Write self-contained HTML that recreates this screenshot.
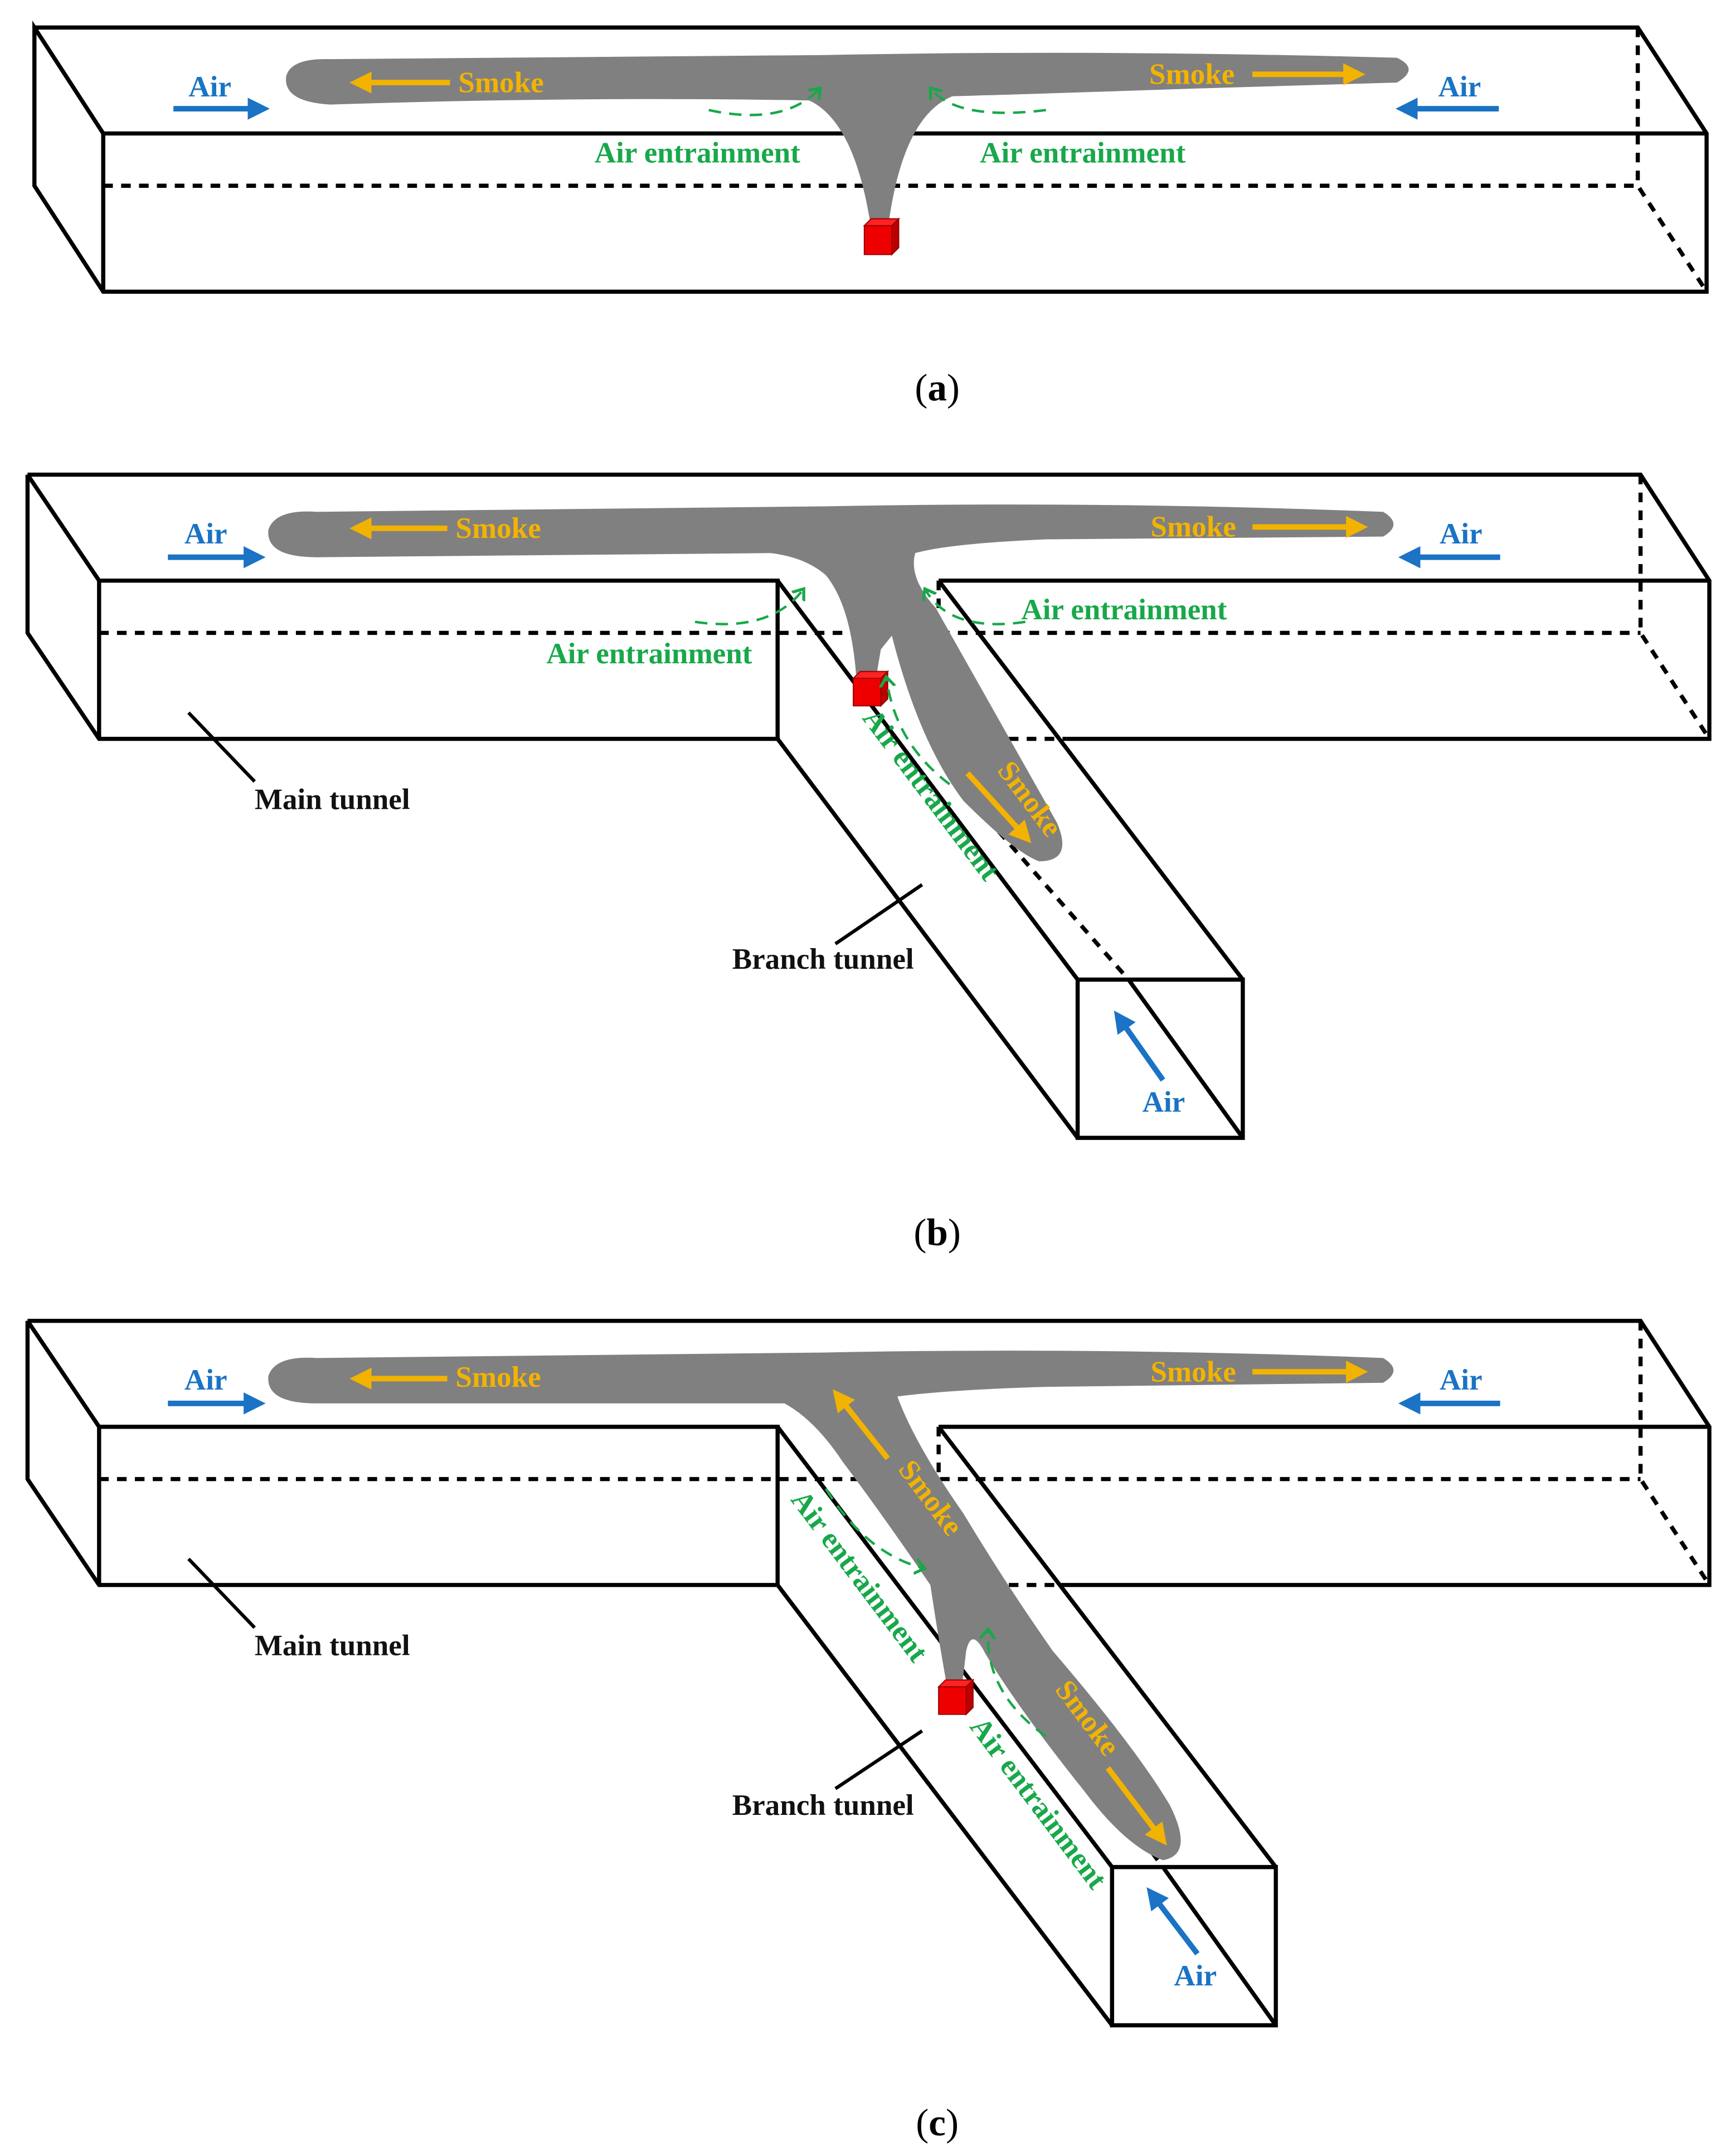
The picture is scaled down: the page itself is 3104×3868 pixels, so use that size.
<!DOCTYPE html>
<html><head><meta charset="utf-8"><style>
html,body{margin:0;padding:0;background:#fff}
svg{display:block}
text{font-family:"Liberation Serif",serif;font-weight:bold}
.a{fill:#1a73c4;font-size:21.5px}
.s{fill:#f2b300;font-size:21.5px}
.g{fill:#18a84a;font-size:21.5px}
.k{fill:#111;font-size:21.5px}
</style></head><body>
<svg width="3104" height="3868" viewBox="0 0 1257 1567" preserveAspectRatio="none" xmlns="http://www.w3.org/2000/svg">
<defs>
<marker id="mb" markerWidth="4" markerHeight="4" refX="2" refY="2" orient="auto" markerUnits="strokeWidth"><path d="M0,0 L4,2 L0,4Z" fill="#1a73c4"/></marker>
<marker id="ms" markerWidth="4" markerHeight="4" refX="2" refY="2" orient="auto" markerUnits="strokeWidth"><path d="M0,0 L4,2 L0,4Z" fill="#f2b300"/></marker>
<marker id="mg" markerWidth="8" markerHeight="8" refX="4" refY="4" orient="auto" markerUnits="strokeWidth"><path d="M0,1 L4,4 L0,7" fill="none" stroke="#18a84a" stroke-width="1.2"/></marker>
</defs>
<rect width="1257" height="1567" fill="#fff"/>

<!-- ===== Panel A ===== -->
<g stroke="#000" stroke-width="3" fill="none">
<path d="M25,20 L1190,20 L1240,97 L1240,212 L75,212 L25,135 L25,20 L75,97 L1240,97 M75,97 L75,212"/>
<path d="M75,135 L1190,135 M1190,20 L1190,135 L1240,212" stroke-dasharray="7,6"/>
</g>
<path d="M208,55 Q212,42 240,43 L600,40 Q800,36 1015,42 Q1032,50 1015,60 L880,64 Q760,68 692,70 Q657,84 646,160 L632,160 Q620,88 588,73 Q420,70 240,76 Q205,74 208,55Z" fill="#808080"/>
<g>
<rect x="628" y="164" width="20" height="21" fill="#e00" stroke="#900" stroke-width="0.8"/>
<path d="M628,164 L633,159 L653,159 L648,164Z" fill="#f22" stroke="#900" stroke-width="0.8"/>
<path d="M648,164 L653,159 L653,180 L648,185Z" fill="#b00" stroke="#900" stroke-width="0.8"/>
</g>
<g stroke-width="4">
<line x1="126" y1="79" x2="188" y2="79" stroke="#1a73c4" marker-end="url(#mb)"/>
<line x1="1089" y1="79" x2="1022" y2="79" stroke="#1a73c4" marker-end="url(#mb)"/>
<line x1="327" y1="60" x2="262" y2="60" stroke="#f2b300" marker-end="url(#ms)"/>
<line x1="910" y1="54" x2="984" y2="54" stroke="#f2b300" marker-end="url(#ms)"/>
</g>
<text class="a" x="137" y="70">Air</text>
<text class="a" x="1045" y="70">Air</text>
<text class="s" x="333" y="67">Smoke</text>
<text class="s" x="835" y="61">Smoke</text>
<g stroke="#18a84a" stroke-width="1.8" fill="none" stroke-dasharray="9,6">
<path d="M515,80 Q570,92 596,64" marker-end="url(#mg)"/>
<path d="M760,80 Q695,88 676,64" marker-end="url(#mg)"/>
</g>
<text class="g" x="432" y="118">Air entrainment</text>
<text class="g" x="712" y="118">Air entrainment</text>
<text x="681" y="291" text-anchor="middle" style="font-size:28px;font-weight:normal">(<tspan font-weight="bold">a</tspan>)</text>

<!-- ===== Panel B ===== -->
<g stroke="#000" stroke-width="3" fill="none">
<path d="M20,345 L1192,345 L1242,422 L1242,537 L775,537 M20,345 L72,422 L565,422 L565,537 L72,537 L20,460 L20,345 M72,422 L72,537"/>
<path d="M682,422 L1242,422 M565,422 L783,712 M565,537 L783,827 M682,422 L903,712 M783,712 L903,712 L903,827 L783,827 Z M820,712 L903,827"/>
<path d="M72,460 L1192,460 M1192,345 L1192,460 L1242,537 M682,422 L682,460 M720,537 L775,537 M700,575 L820,712" stroke-dasharray="7,6"/>
</g>
<path d="M195,385 Q200,370 230,372 L600,368 Q800,364 1005,372 Q1020,381 1005,390 L760,392 Q690,395 665,402 Q660,420 680,442 L768,598 Q780,626 755,626 Q738,620 700,582 Q668,540 648,462 L640,472 L637,490 L622,490 Q618,440 600,418 Q585,405 560,402 L230,405 Q193,405 195,385Z" fill="#808080"/>
<g>
<rect x="620" y="493" width="20" height="20" fill="#e00" stroke="#900" stroke-width="0.8"/>
<path d="M620,493 L625,488 L645,488 L640,493Z" fill="#f22" stroke="#900" stroke-width="0.8"/>
<path d="M640,493 L645,488 L645,508 L640,513Z" fill="#b00" stroke="#900" stroke-width="0.8"/>
</g>
<g stroke-width="4">
<line x1="122" y1="405" x2="185" y2="405" stroke="#1a73c4" marker-end="url(#mb)"/>
<line x1="1090" y1="405" x2="1024" y2="405" stroke="#1a73c4" marker-end="url(#mb)"/>
<line x1="845" y1="785" x2="814" y2="741" stroke="#1a73c4" marker-end="url(#mb)"/>
<line x1="325" y1="384" x2="262" y2="384" stroke="#f2b300" marker-end="url(#ms)"/>
<line x1="910" y1="383" x2="986" y2="383" stroke="#f2b300" marker-end="url(#ms)"/>
<line x1="703" y1="562" x2="744" y2="607" stroke="#f2b300" marker-end="url(#ms)"/>
</g>
<text class="a" x="134" y="395">Air</text>
<text class="a" x="1046" y="395">Air</text>
<text class="a" x="830" y="808">Air</text>
<text class="s" x="331" y="391">Smoke</text>
<text class="s" x="836" y="390">Smoke</text>
<text class="s" transform="translate(724,560) rotate(53)">Smoke</text>
<g stroke="#18a84a" stroke-width="1.8" fill="none" stroke-dasharray="9,6">
<path d="M505,452 Q560,460 584,428" marker-end="url(#mg)"/>
<path d="M745,452 Q690,460 672,428" marker-end="url(#mg)"/>
<path d="M690,570 Q650,540 644,492" marker-end="url(#mg)"/>
</g>
<text class="g" x="397" y="482">Air entrainment</text>
<text class="g" x="742" y="450">Air entrainment</text>
<text class="g" transform="translate(626,522) rotate(53)">Air entrainment</text>
<g stroke="#000" stroke-width="2.5"><line x1="137" y1="518" x2="185" y2="568"/><line x1="607" y1="686" x2="670" y2="643"/></g>
<text class="k" x="185" y="588">Main tunnel</text>
<text class="k" x="532" y="704">Branch tunnel</text>
<text x="681" y="905" text-anchor="middle" style="font-size:28px;font-weight:normal">(<tspan font-weight="bold">b</tspan>)</text>

<!-- ===== Panel C ===== -->
<g stroke="#000" stroke-width="3" fill="none">
<path d="M20,960 L1192,960 L1242,1037 L1242,1152 L770,1152 M20,960 L72,1037 L565,1037 L565,1152 L72,1152 L20,1075 L20,960 M72,1037 L72,1152"/>
<path d="M682,1037 L1242,1037 M565,1037 L808,1357 M565,1152 L808,1472 M682,1037 L927,1357 M808,1357 L927,1357 L927,1472 L808,1472 Z M845,1357 L927,1472"/>
<path d="M72,1075 L1192,1075 M1192,960 L1192,1075 L1242,1152 M682,1037 L682,1075 M720,1152 L770,1152 M712,1180 L845,1357" stroke-dasharray="7,6"/>
</g>
<path d="M195,1000 Q200,985 230,987 L600,983 Q800,979 1005,987 Q1020,996 1005,1005 L760,1008 Q690,1010 652,1015 Q665,1050 700,1100 Q730,1150 765,1200 Q825,1270 850,1312 Q868,1348 845,1352 Q818,1342 788,1302 Q740,1242 716,1202 Q706,1182 702,1200 L699,1225 L688,1225 Q682,1192 676,1152 Q642,1102 612,1062 Q592,1032 570,1020 L230,1020 Q193,1020 195,1000Z" fill="#808080"/>
<g>
<rect x="682" y="1226" width="20" height="20" fill="#e00" stroke="#900" stroke-width="0.8"/>
<path d="M682,1226 L687,1221 L707,1221 L702,1226Z" fill="#f22" stroke="#900" stroke-width="0.8"/>
<path d="M702,1226 L707,1221 L707,1241 L702,1246Z" fill="#b00" stroke="#900" stroke-width="0.8"/>
</g>
<g stroke-width="4">
<line x1="122" y1="1020" x2="185" y2="1020" stroke="#1a73c4" marker-end="url(#mb)"/>
<line x1="1090" y1="1020" x2="1024" y2="1020" stroke="#1a73c4" marker-end="url(#mb)"/>
<line x1="870" y1="1420" x2="838" y2="1378" stroke="#1a73c4" marker-end="url(#mb)"/>
<line x1="325" y1="1002" x2="262" y2="1002" stroke="#f2b300" marker-end="url(#ms)"/>
<line x1="910" y1="997" x2="986" y2="997" stroke="#f2b300" marker-end="url(#ms)"/>
<line x1="645" y1="1060" x2="610" y2="1016" stroke="#f2b300" marker-end="url(#ms)"/>
<line x1="805" y1="1285" x2="843" y2="1335" stroke="#f2b300" marker-end="url(#ms)"/>
</g>
<text class="a" x="134" y="1010">Air</text>
<text class="a" x="1046" y="1010">Air</text>
<text class="a" x="853" y="1443">Air</text>
<text class="s" x="331" y="1008">Smoke</text>
<text class="s" x="836" y="1004">Smoke</text>
<text class="s" transform="translate(652,1068) rotate(53)">Smoke</text>
<text class="s" transform="translate(766,1228) rotate(53)">Smoke</text>
<g stroke="#18a84a" stroke-width="1.8" fill="none" stroke-dasharray="9,6">
<path d="M600,1082 Q630,1130 672,1140" marker-end="url(#mg)"/>
<path d="M760,1262 Q715,1230 718,1184" marker-end="url(#mg)"/>
</g>
<text class="g" transform="translate(574,1090) rotate(53)">Air entrainment</text>
<text class="g" transform="translate(704,1255) rotate(53)">Air entrainment</text>
<g stroke="#000" stroke-width="2.5"><line x1="137" y1="1133" x2="185" y2="1183"/><line x1="607" y1="1300" x2="670" y2="1258"/></g>
<text class="k" x="185" y="1203">Main tunnel</text>
<text class="k" x="532" y="1319">Branch tunnel</text>
<text x="681" y="1552" text-anchor="middle" style="font-size:28px;font-weight:normal">(<tspan font-weight="bold">c</tspan>)</text>
</svg>
</body></html>
